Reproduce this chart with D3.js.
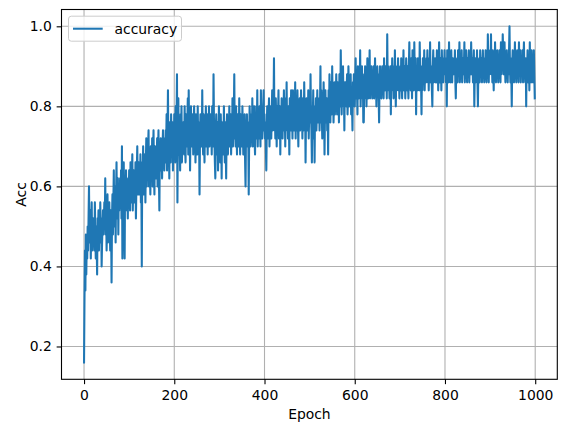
<!DOCTYPE html>
<html>
<head>
<meta charset="utf-8">
<script src="https://cdn.jsdelivr.net/npm/d3@7"></script>
<style>
  body { margin: 0; background: #fff; }
  svg { display: block; font-family: "DejaVu Sans", sans-serif; }
</style>
</head>
<body>
<svg width="567" height="432"></svg>
<script>
// accuracy per epoch (steps of 0.02)
const accuracy = [
  0.16,0.32,0.44,0.34,0.48,0.38,0.46,0.42,0.5,0.44,0.52,0.6,0.48,0.46,0.54,0.42,0.5,0.56,0.44,0.48,
  0.52,0.46,0.5,0.44,0.56,0.48,0.42,0.5,0.46,0.38,0.52,0.48,0.54,0.44,0.5,0.46,0.56,0.48,0.52,0.4,
  0.46,0.5,0.54,0.48,0.52,0.56,0.5,0.62,0.48,0.54,0.44,0.5,0.58,0.46,0.52,0.48,0.56,0.5,0.44,0.54,
  0.5,0.36,0.52,0.58,0.48,0.56,0.64,0.5,0.54,0.6,0.46,0.58,0.66,0.52,0.56,0.62,0.48,0.6,0.54,0.58,
  0.62,0.56,0.64,0.52,0.7,0.42,0.6,0.58,0.66,0.5,0.42,0.62,0.56,0.64,0.58,0.54,0.6,0.52,0.62,0.56,
  0.64,0.58,0.54,0.66,0.6,0.56,0.62,0.68,0.54,0.6,0.64,0.56,0.62,0.58,0.66,0.52,0.6,0.64,0.7,0.58,
  0.62,0.66,0.58,0.64,0.6,0.68,0.56,0.62,0.4,0.66,0.6,0.7,0.58,0.64,0.62,0.68,0.56,0.66,0.72,0.6,
  0.66,0.62,0.7,0.74,0.6,0.68,0.64,0.58,0.7,0.66,0.62,0.72,0.6,0.68,0.74,0.64,0.58,0.7,0.66,0.62,
  0.7,0.64,0.72,0.6,0.68,0.74,0.62,0.54,0.7,0.66,0.72,0.64,0.68,0.62,0.7,0.74,0.66,0.72,0.64,0.7,
  0.66,0.74,0.7,0.78,0.64,0.72,0.84,0.68,0.74,0.62,0.76,0.7,0.66,0.78,0.72,0.68,0.76,0.64,0.74,0.7,
  0.78,0.72,0.66,0.8,0.7,0.76,0.88,0.56,0.74,0.82,0.68,0.76,0.7,0.64,0.78,0.72,0.8,0.66,0.74,0.7,
  0.76,0.72,0.68,0.8,0.7,0.66,0.78,0.74,0.7,0.76,0.82,0.68,0.84,0.72,0.76,0.64,0.74,0.8,0.7,0.76,
  0.72,0.78,0.68,0.74,0.8,0.7,0.76,0.66,0.78,0.72,0.74,0.68,0.8,0.7,0.76,0.74,0.58,0.72,0.78,0.7,
  0.76,0.7,0.84,0.72,0.68,0.78,0.74,0.66,0.76,0.72,0.8,0.7,0.74,0.78,0.68,0.76,0.72,0.8,0.7,0.74,
  0.78,0.72,0.76,0.68,0.8,0.74,0.7,0.88,0.76,0.72,0.66,0.62,0.74,0.78,0.7,0.68,0.76,0.64,0.72,0.8,
  0.7,0.74,0.66,0.78,0.72,0.62,0.76,0.7,0.74,0.68,0.8,0.72,0.66,0.76,0.7,0.62,0.74,0.78,0.7,0.68,
  0.76,0.72,0.8,0.7,0.74,0.78,0.68,0.76,0.72,0.82,0.7,0.74,0.78,0.88,0.72,0.76,0.7,0.8,0.74,0.68,
  0.78,0.72,0.76,0.7,0.82,0.74,0.68,0.78,0.72,0.76,0.7,0.8,0.74,0.68,0.76,0.72,0.78,0.66,0.6,0.74,
  0.72,0.78,0.7,0.76,0.74,0.58,0.72,0.8,0.76,0.7,0.74,0.78,0.72,0.82,0.7,0.76,0.74,0.8,0.72,0.68,
  0.76,0.72,0.8,0.74,0.84,0.7,0.78,0.74,0.72,0.8,0.76,0.7,0.84,0.74,0.78,0.72,0.76,0.8,0.84,0.74,
  0.78,0.72,0.76,0.7,0.64,0.74,0.8,0.76,0.72,0.78,0.82,0.7,0.76,0.74,0.8,0.72,0.78,0.84,0.74,0.76,
  0.8,0.92,0.74,0.78,0.72,0.82,0.76,0.7,0.8,0.74,0.78,0.84,0.72,0.76,0.8,0.68,0.78,0.74,0.82,0.76,
  0.72,0.8,0.76,0.84,0.74,0.78,0.7,0.82,0.76,0.86,0.74,0.78,0.72,0.8,0.76,0.68,0.82,0.78,0.74,0.84,
  0.76,0.8,0.72,0.84,0.78,0.74,0.82,0.76,0.86,0.72,0.8,0.78,0.74,0.84,0.76,0.7,0.8,0.78,0.82,0.74,
  0.78,0.84,0.76,0.8,0.72,0.82,0.78,0.74,0.86,0.76,0.8,0.66,0.78,0.82,0.74,0.8,0.76,0.84,0.72,0.78,
  0.82,0.76,0.88,0.78,0.74,0.66,0.8,0.76,0.84,0.72,0.78,0.66,0.8,0.76,0.82,0.74,0.78,0.84,0.76,0.8,
  0.78,0.82,0.74,0.8,0.9,0.76,0.84,0.78,0.72,0.82,0.76,0.86,0.8,0.68,0.78,0.84,0.76,0.8,0.82,0.74,
  0.8,0.68,0.84,0.78,0.88,0.8,0.76,0.86,0.82,0.78,0.9,0.8,0.84,0.76,0.82,0.86,0.78,0.84,0.8,0.88,
  0.82,0.78,0.86,0.8,0.84,0.76,0.88,0.82,0.8,0.94,0.84,0.78,0.86,0.82,0.9,0.8,0.84,0.74,0.86,0.82,
  0.86,0.8,0.84,0.88,0.78,0.82,0.9,0.84,0.8,0.86,0.82,0.88,0.78,0.84,0.8,0.74,0.86,0.82,0.88,0.84,
  0.8,0.86,0.92,0.82,0.88,0.84,0.78,0.9,0.86,0.82,0.88,0.84,0.94,0.8,0.86,0.82,0.9,0.84,0.88,0.76,
  0.76,0.86,0.82,0.9,0.84,0.88,0.8,0.86,0.92,0.84,0.82,0.88,0.86,0.94,0.82,0.88,0.84,0.9,0.86,0.82,
  0.88,0.84,0.9,0.82,0.86,0.92,0.84,0.88,0.8,0.86,0.9,0.84,0.88,0.82,0.76,0.86,0.9,0.84,0.88,0.82,
  0.86,0.9,0.84,0.88,0.82,0.92,0.86,0.84,0.9,0.86,0.88,0.82,0.98,0.86,0.9,0.84,0.88,0.82,0.86,0.9,
  0.78,0.88,0.84,0.92,0.86,0.9,0.82,0.88,0.84,0.94,0.86,0.8,0.88,0.84,0.9,0.86,0.92,0.84,0.88,0.82,
  0.86,0.9,0.84,0.92,0.88,0.82,0.9,0.86,0.94,0.84,0.88,0.9,0.82,0.86,0.92,0.88,0.84,0.9,0.86,0.82,
  0.9,0.96,0.86,0.9,0.84,0.92,0.88,0.82,0.94,0.86,0.9,0.84,0.96,0.88,0.86,0.92,0.78,0.88,0.9,0.84,
  0.92,0.86,0.9,0.84,0.96,0.88,0.9,0.86,0.78,0.9,0.84,0.92,0.88,0.86,0.94,0.84,0.9,0.88,0.86,0.92,
  0.88,0.94,0.86,0.9,0.84,0.92,0.88,0.96,0.86,0.9,0.88,0.84,0.8,0.9,0.94,0.86,0.9,0.88,0.92,0.86,
  0.9,0.86,0.94,0.88,0.92,0.84,0.9,0.96,0.88,0.86,0.92,0.9,0.84,0.94,0.88,0.9,0.86,0.92,0.88,0.94,
  0.88,0.92,0.86,0.9,0.8,0.94,0.88,0.9,0.86,0.96,0.88,0.92,0.86,0.9,0.94,0.88,0.86,0.92,0.9,0.88,
  0.92,0.88,0.94,0.86,0.82,0.9,0.88,0.92,0.86,0.94,0.9,0.88,0.96,0.86,0.9,0.92,0.88,0.94,0.86,0.9,
  0.92,0.88,0.9,0.96,0.86,0.92,0.88,0.94,0.9,0.86,0.92,0.88,0.9,0.94,0.86,0.92,0.9,0.88,0.96,0.9,
  0.88,0.92,0.86,0.9,0.94,0.8,0.88,0.92,0.86,0.9,0.88,0.94,0.86,0.8,0.9,0.88,0.92,0.86,0.94,0.9,
  0.88,0.92,0.86,0.9,0.94,0.88,0.92,0.86,0.9,0.88,0.94,0.9,0.86,0.92,0.88,0.98,0.9,0.86,0.92,0.88,
  0.94,0.9,0.98,0.88,0.92,0.86,0.94,0.9,0.84,0.92,0.88,0.96,0.9,0.86,0.92,0.88,0.94,0.9,0.86,0.92,
  0.88,0.94,0.9,0.86,0.96,0.88,0.92,0.9,0.98,0.94,0.88,0.92,0.96,0.9,0.86,0.92,0.88,0.94,0.9,0.86,
  0.92,0.88,0.94,1.0,0.9,0.86,0.92,0.88,0.8,0.9,0.94,0.88,0.92,0.86,0.9,0.96,0.88,0.92,0.86,0.9,
  0.94,0.88,0.92,0.86,0.96,0.9,0.88,0.94,0.86,0.92,0.9,0.88,0.94,0.86,0.92,0.96,0.88,0.9,0.86,0.92,
  0.8,0.92,0.88,0.94,0.86,0.9,0.92,0.84,0.96,0.88,0.9,0.86,0.94,0.88,0.92,0.86,0.9,0.94,0.88,0.82
];
const xTicks = [0, 200, 400, 600, 800, 1000];
const yTicks = [0.2, 0.4, 0.6, 0.8, 1.0];
const seriesName = 'accuracy';
const xLabel = 'Epoch';
const yLabel = 'Acc';

(function (d3) {
    'use strict';

    const svg = d3.select('svg');
    const left = 61.5, right = 557.3, top = 9.5, bottom = 379.3;
    const fontSize = 13.9;
    const tick = 4.86;
    const lineWidth = 2.08; // 1.5pt at 100 dpi

    // matplotlib style 5% margins
    const n = accuracy.length - 1;
    const yMin = d3.min(accuracy), yMax = d3.max(accuracy);
    const yPad = (yMax - yMin) * 0.05;

    const x = d3.scaleLinear().domain([-n * 0.05, n * 1.05]).range([left, right]);
    const y = d3.scaleLinear().domain([yMin - yPad, yMax + yPad]).range([bottom, top]);

    // grid
    const grid = svg.append('g').attr('stroke', '#b0b0b0').attr('stroke-width', 1.1);
    grid.selectAll('.gx').data(xTicks).enter().append('line')
        .attr('x1', d => x(d)).attr('x2', d => x(d))
        .attr('y1', top).attr('y2', bottom);
    grid.selectAll('.gy').data(yTicks).enter().append('line')
        .attr('x1', left).attr('x2', right)
        .attr('y1', d => y(d)).attr('y2', d => y(d));

    // line
    const line = d3.line().x((d, i) => x(i)).y(d => y(d));
    svg.append('path')
        .datum(accuracy)
        .attr('d', line)
        .attr('fill', 'none')
        .attr('stroke', '#1f77b4')
        .attr('stroke-width', lineWidth)
        .attr('stroke-linejoin', 'round')
        .attr('stroke-linecap', 'square');

    // axes
    const xAxis = svg.append('g')
        .attr('transform', `translate(0,${bottom})`)
        .call(d3.axisBottom(x).tickValues(xTicks).tickFormat(d3.format('d'))
            .tickSize(tick).tickPadding(tick));
    const yAxis = svg.append('g')
        .attr('transform', `translate(${left},0)`)
        .call(d3.axisLeft(y).tickValues(yTicks).tickFormat(d3.format('.1f'))
            .tickSize(tick).tickPadding(tick));

    [xAxis, yAxis].forEach(g => {
        g.attr('font-family', '"DejaVu Sans", sans-serif').attr('font-size', fontSize);
        g.select('.domain').remove();
        g.selectAll('.tick line').attr('stroke', '#000').attr('stroke-width', 1.1);
        g.selectAll('.tick text').attr('fill', '#000');
    });
    xAxis.selectAll('.tick text').attr('dy', '0.76em');

    // frame
    svg.append('rect')
        .attr('x', left).attr('y', top)
        .attr('width', right - left).attr('height', bottom - top)
        .attr('fill', 'none').attr('stroke', '#000').attr('stroke-width', 1.1);

    // axis labels
    svg.append('text')
        .attr('x', (left + right) / 2).attr('y', 419)
        .attr('text-anchor', 'middle').attr('font-size', fontSize)
        .text(xLabel);
    svg.append('text')
        .attr('transform', `translate(26,${(top + bottom) / 2}) rotate(-90)`)
        .attr('text-anchor', 'middle').attr('font-size', fontSize)
        .text(yLabel);

    // legend
    const legend = svg.append('g');
    legend.append('rect')
        .attr('x', 68.5).attr('y', 16.2)
        .attr('width', 113).attr('height', 25)
        .attr('rx', 2.8)
        .attr('fill', '#fff').attr('fill-opacity', 0.8)
        .attr('stroke', '#cccccc').attr('stroke-width', 1);
    legend.append('line')
        .attr('x1', 73).attr('x2', 102.7)
        .attr('y1', 28.7).attr('y2', 28.7)
        .attr('stroke', '#1f77b4').attr('stroke-width', lineWidth);
    legend.append('text')
        .attr('x', 114.5).attr('y', 33.6)
        .attr('font-size', fontSize)
        .text(seriesName);
}(d3));
</script>
</body>
</html>
